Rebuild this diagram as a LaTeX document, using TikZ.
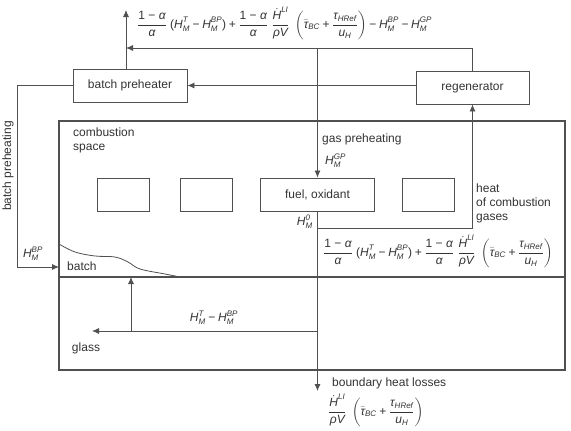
\documentclass[tikz,border=0pt]{standalone}
\usepackage{fontspec}
\setmainfont{Liberation Sans}
\usepackage{amsmath}
\usetikzlibrary{arrows.meta}
\definecolor{ln}{HTML}{505050}
\definecolor{tx}{HTML}{333333}
\newcommand\vi[1]{\text{\itshape #1}}
\newcommand\HM[1]{\vi{H}^{\vi{#1}}_{\vi{M}}}
\newcommand\pl{\mathbin{\text{+}}}
\newcommand\mn{\mathbin{\text{−}}}
\newcommand\fa{\dfrac{\text{1 − }\vi{α}}{\vi{α}}}
\newcommand\Hd{\dfrac{\dot{\vi{H}}^{\vi{LI}}}{\vi{ρV}}}
\newcommand\tb{\left(\bar{\vi{τ}}_{\vi{BC}} \pl \dfrac{\vi{τ}_{\vi{HRef}}}{\vi{u}_{\vi{H}}}\right)}
\begin{document}
\begin{tikzpicture}[x=1pt,y=-1pt,
  font=\fontsize{12}{14}\selectfont, text=tx,
  boxn/.style={draw=ln, line width=0.9pt, minimum height=33pt, inner sep=0pt},
  arr/.style={draw=ln, line width=0.8pt, -{Latex[length=7pt,width=6pt]}},
  ln/.style={draw=ln, line width=0.8pt},
  lbl/.style={inner sep=0pt, align=left}]
\useasboundingbox (0,0) rectangle (571,431);
% boxes
\node[boxn, minimum width=114pt] (bp) at (130,85.5) {batch preheater};
\node[boxn, minimum width=113pt] (rg) at (472.5,87.5) {regenerator};
\node[draw=ln, line width=1.4pt, minimum width=506pt, minimum height=249pt, inner sep=0pt] (fur) at (312,245.5) {};
\node[boxn, minimum width=52pt] (b1) at (123,194.5) {};
\node[boxn, minimum width=52pt] (b2) at (206,194.5) {};
\node[boxn, minimum width=114pt] (fuel) at (317.5,194.5) {fuel, oxidant};
\node[boxn, minimum width=52pt] (b4) at (428,194.5) {};
% divider
\coordinate (dl) at (59,277);
\coordinate (dr) at (565,277);
\draw[ln, line width=1.2pt] (dl) -- (dr);
% coordinates
\coordinate (t1) at (126,10);
\coordinate (ytop) at (0,48);
\coordinate (yhc) at (0,228);
\coordinate (ygl) at (0,331);
\coordinate (ybh) at (0,391);
\coordinate (bl) at (17,267);
\coordinate (bin) at (59,267);
\coordinate (gl) at (92,331);
\coordinate (up0) at (131,331);
\coordinate (up1) at (131,277);
% connectors
\draw[arr] (bp.north -| t1) -- (t1);
\draw[arr] (rg.north) |- (t1 |- ytop);
\draw[arr] (fuel.north |- ytop) -- (fuel.north);
\draw[arr] (rg.west |- bp.east) -- (bp.east);
\draw[arr] (bp.west) -| (bl) -- (bin);
\draw[arr] (fuel.south) -- (fuel.south |- ybh);
\draw[arr] (fuel.south |- yhc) -| (rg.south);
\draw[arr] (fuel.south |- ygl) -- (gl);
\draw[arr] (up0) -- (up1);
% batch layer
\draw[ln] plot[smooth, tension=0.6] coordinates {(59,244) (75,252) (95,256) (115,257) (128,262) (140,269) (165,274) (180,277)};
% labels
\node[lbl, anchor=north west] (cs) at (73,128) {combustion\\space};
\node[lbl, anchor=west] (gp) at (322,139) {gas preheating};
\node[lbl, anchor=west] (hgp) at (325,161) {$\HM{GP}$};
\node[lbl, anchor=east] (h0) at (313,222) {$\HM{0}$};
\node[lbl, anchor=north west] (hc) at (476,184) {heat\\of combustion\\gases};
\node[lbl, anchor=west] (f2) at (323,251) {$\fa\;\text{(}\HM{T}\mn\HM{BP}\text{)}\pl\fa\;\Hd\;\tb$};
\node[lbl, anchor=west] (bt) at (67,266) {batch};
\node[lbl] (hbp) at (33,254) {$\HM{BP}$};
\node[lbl, rotate=90] (bph) at (8,166) {batch preheating};
\node[lbl] (gls) at (86,348) {glass};
\node[lbl] (htb) at (214,318) {$\HM{T}\mn\HM{BP}$};
\node[lbl, anchor=west] (bhl) at (332,383) {boundary heat losses};
\node[lbl, anchor=west] (f3) at (328,410) {$\Hd\;\tb$};
\node[lbl, anchor=west] (f1) at (137,23) {$\fa\;\text{(}\HM{T}\mn\HM{BP}\text{)}\pl\fa\;\Hd\;\tb\mn\HM{BP}\mn\HM{GP}$};
\end{tikzpicture}
\end{document}
